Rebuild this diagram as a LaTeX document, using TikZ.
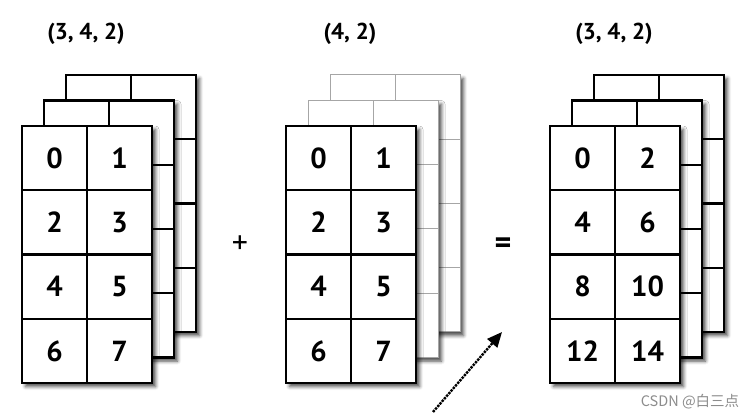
\documentclass[tikz,border=0pt]{standalone}
\usepackage{fontspec}
\setmainfont{PT Sans}
\newfontfamily\cjkfont{Noto Sans CJK SC}
\usetikzlibrary{arrows.meta, shadows.blur}
\tikzset{
  sheet/.style={draw, fill=white, line width=2.2pt, minimum width=130pt, minimum height=257pt, inner sep=0pt,
    blur shadow={shadow xshift=3.5pt, shadow yshift=-3.5pt, shadow blur radius=3.5pt, shadow opacity=70}},
  solidgrid/.style={draw=black, line width=2.2pt},
  faintgrid/.style={draw=black!35, line width=1pt},
  cell/.style={draw, line width=2.2pt, minimum width=65pt, minimum height=64.25pt, inner sep=0pt, font=\bfseries\fontsize{29}{29}\selectfont},
  shapelabel/.style={font=\bfseries\fontsize{23}{23}\selectfont},
  opsign/.style={font=\fontsize{32}{32}\selectfont},
  bcast/.style={densely dotted, line width=2.4pt, -{Triangle[length=15pt, width=13pt]}},
  mark text/.style={font=\cjkfont\fontsize{14.5}{14.5}\selectfont, text=black!45},
}
\begin{document}
\begin{tikzpicture}[x=1pt, y=-1pt]
  \useasboundingbox (0,0) rectangle (755,419);
  % shape labels
  \node[shapelabel] (lbla) at (86,34) {(3, 4, 2)};
  \node[shapelabel] (lblb) at (350,34) {(4, 2)};
  \node[shapelabel] (lblc) at (614,34) {(3, 4, 2)};
  % three stacks of sheets
  \foreach \sx/\name/\look/\mult in {22/a/solidgrid/1, 286/b/faintgrid/1, 550/c/solidgrid/2} {
    \foreach \k in {2,1} {
      \node[sheet, \look] (\name\k) at (\sx+65+22*\k, 126+128.5-25.5*\k) {};
      \draw[\look] (\sx+22*\k+65, 126-25.5*\k) -- ++(0,257);
      \foreach \r in {1,2,3}
        \draw[\look] (\sx+22*\k, 126-25.5*\k+64.25*\r) -- ++(130,0);
    }
    \node[sheet] (\name0) at (\sx+65, 126+128.5) {};
    \foreach \r in {0,...,3}
      \foreach \c in {0,1} {
        \pgfmathtruncatemacro\val{(2*\r+\c)*\mult}
        \node[cell] (\name-\r-\c) at (\sx+32.5+65*\c, 126+32.125+64.25*\r) {\val};
      }
  }
  % operators
  \node[opsign] (plus) at (240,245) {+};
  \node[opsign, font=\bfseries\fontsize{32}{32}\selectfont] (equals) at (503,246) {=};
  % broadcast arrow
  \coordinate (tail) at (433,412);
  \coordinate (tip) at (502,332);
  \draw[bcast] (tail) -- (tip);
  \node[mark text] (mark) at (690,402) {CSDN @白三点};
\end{tikzpicture}
\end{document}
